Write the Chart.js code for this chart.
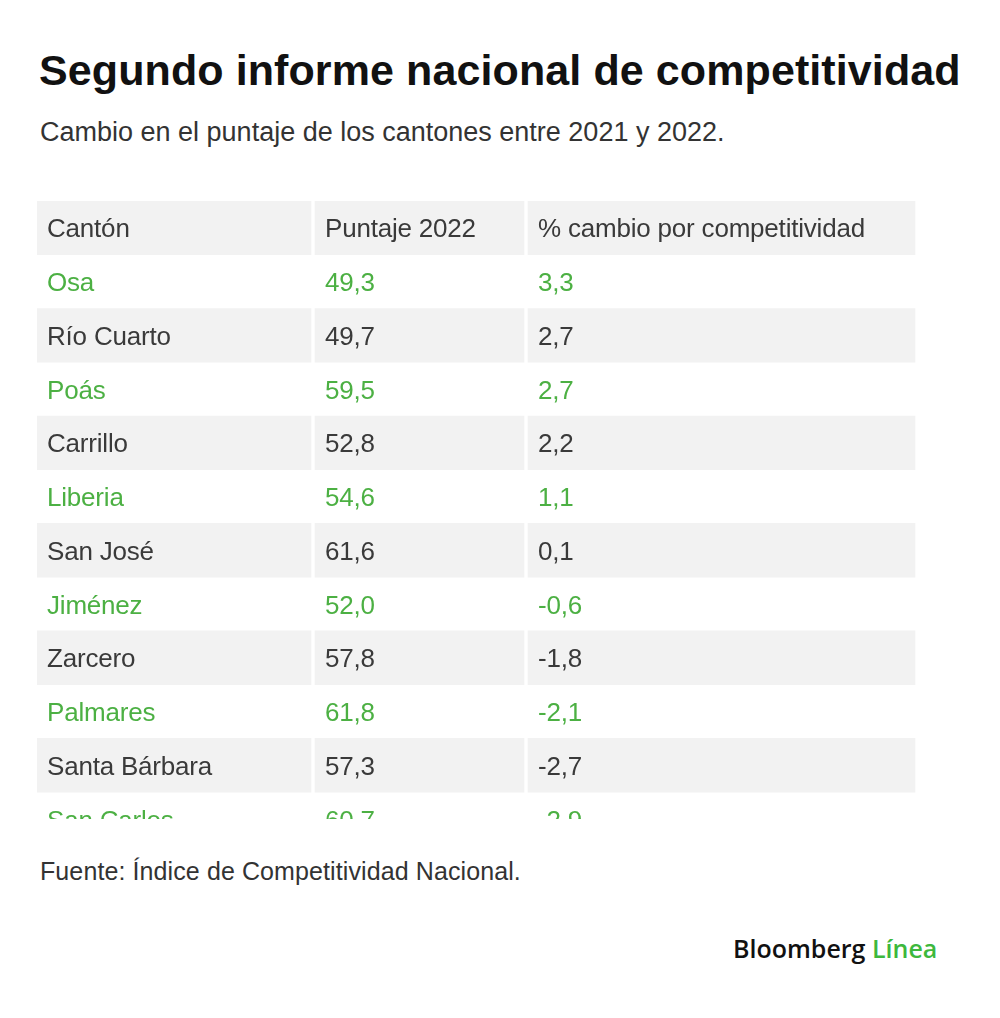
<!DOCTYPE html>
<html>
<head>
<meta charset="utf-8">
<script src="https://cdn.jsdelivr.net/npm/chart.js@4.4.1/dist/chart.umd.min.js"></script>
<style>
  html, body { margin: 0; padding: 0; background: #ffffff; }
  body { width: 1000px; height: 1018px; position: relative; overflow: hidden; font-family: "Liberation Sans", Arial, sans-serif; }
  .abs { position: absolute; white-space: nowrap; line-height: 1; }
  #title { left: 39px; top: 49px; font-size: 43px; font-weight: 700; color: #111; letter-spacing: 0.1px; }
  #subtitle { left: 40px; top: 119px; font-size: 27px; color: #333; letter-spacing: 0px; }
  #source { left: 40px; top: 859px; font-size: 25px; color: #333; letter-spacing: 0.1px; }
  #logo { left: 733px; top: 936px; font-family: "Open Sans", sans-serif; font-size: 25px; font-weight: 600; color: #111; }
  #logo span { color: #3db83d; }
  #wrap { position: absolute; left: 37px; top: 201px; width: 880px; height: 618px; }
  #c { display: block; width: 880px; height: 618px; }
</style>
</head>
<body>
<div id="title" class="abs">Segundo informe nacional de competitividad</div>
<div id="subtitle" class="abs">Cambio en el puntaje de los cantones entre 2021 y 2022.</div>
<div id="wrap"><canvas id="c" width="880" height="618"></canvas></div>
<div id="source" class="abs">Fuente: Índice de Competitividad Nacional.</div>
<div id="logo" class="abs">Bloomberg <span>Línea</span></div>
<script>
// ---- data ----
const headers = ["Cantón", "Puntaje 2022", "% cambio por competitividad"];
const cantones = ["Osa", "Río Cuarto", "Poás", "Carrillo", "Liberia", "San José", "Jiménez", "Zarcero", "Palmares", "Santa Bárbara", "San Carlos"];
const puntaje2022 = [49.3, 49.7, 59.5, 52.8, 54.6, 61.6, 52.0, 57.8, 61.8, 57.3, 60.7];
const cambio = [3.3, 2.7, 2.7, 2.2, 1.1, 0.1, -0.6, -1.8, -2.1, -2.7, -2.9];

// ---- layout / style ----
const colEdges = [[0, 274], [278, 487], [491, 878]];
const textPad = 10;
const GRAY_BG = "#f2f2f2";
const TEXT_DARK = "#3a3a3a";
const TEXT_GREEN = "#4cb043";
const fmt = v => v.toFixed(1).replace(".", ",");

const rows = [headers].concat(cantones.map((c, i) => [c, fmt(puntaje2022[i]), fmt(cambio[i])]));

const datasets = colEdges.map((edge, ci) => ({
  label: headers[ci],
  data: rows.map((r, ri) => ({ y: ri, x: [edge[0], edge[1]] })),
  backgroundColor: rows.map((r, ri) => ri % 2 === 0 ? GRAY_BG : "rgba(255,255,255,0)"),
  borderWidth: 0,
  borderSkipped: false,
  barPercentage: 1,
  categoryPercentage: 1,
  grouped: false
}));

const cellText = {
  id: "cellText",
  afterDatasetsDraw(chart) {
    const ctx = chart.ctx;
    const xs = chart.scales.x, ys = chart.scales.y;
    const a = chart.chartArea;
    ctx.save();
    ctx.beginPath();
    ctx.rect(a.left, a.top, a.right - a.left, a.bottom - a.top);
    ctx.clip();
    ctx.font = '26px "Liberation Sans", Arial, sans-serif';
    ctx.letterSpacing = "-0.2px";
    ctx.textBaseline = "alphabetic";
    ctx.textAlign = "left";
    rows.forEach((r, ri) => {
      const yc = ys.getPixelForValue(ri);
      ctx.fillStyle = (ri % 2 === 1) ? TEXT_GREEN : TEXT_DARK;
      r.forEach((t, ci) => {
        const x = xs.getPixelForValue(colEdges[ci][0]) + textPad;
        ctx.fillText(t, x, yc + 9.5);
      });
    });
    ctx.restore();
  }
};

new Chart(document.getElementById("c"), {
  type: "bar",
  data: { datasets },
  options: {
    indexAxis: "y",
    responsive: false,
    maintainAspectRatio: false,
    animation: false,
    devicePixelRatio: 1,
    layout: { padding: 0 },
    plugins: { legend: { display: false }, tooltip: { enabled: false }, title: { display: false } },
    scales: {
      x: { type: "linear", min: 0, max: 880, display: false, offset: false },
      y: { type: "linear", min: -0.5, max: 11, reverse: true, display: false, offset: false,
           afterBuildTicks: s => { s.ticks = rows.map((r, i) => ({ value: i })); } }
    }
  },
  plugins: [cellText]
});
</script>
</body>
</html>
